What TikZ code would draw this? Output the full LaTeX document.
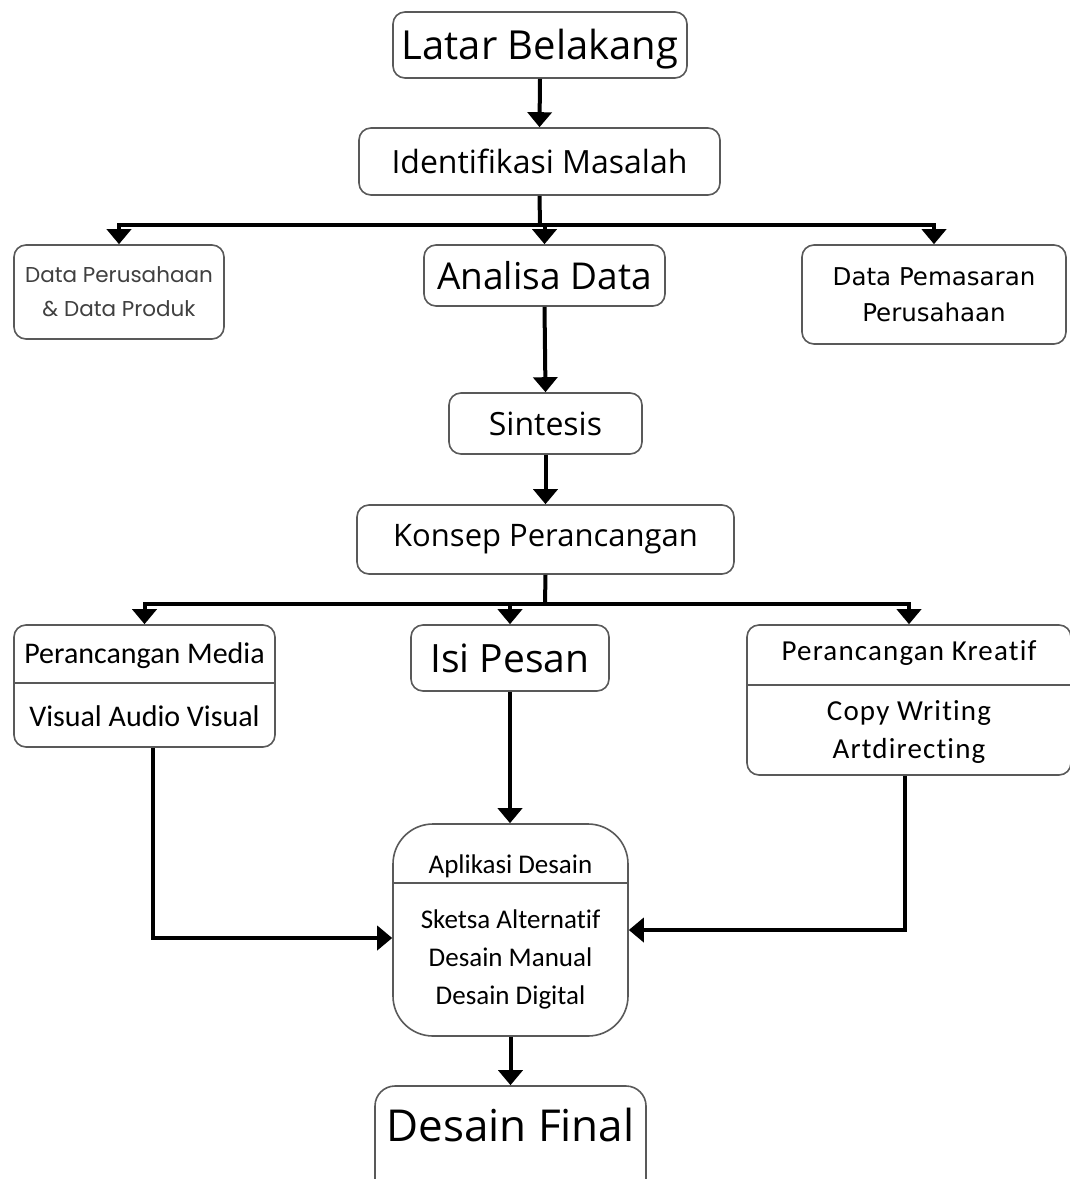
\documentclass[tikz,border=0pt]{standalone}
\usepackage{fontspec}
\setmainfont{Open Sans}
\newfontfamily\calfont[Ligatures=NoCommon]{Carlito}
\newfontfamily\calspfont[Ligatures=NoCommon,LetterSpace=4]{Carlito}
\newfontfamily\dvsfont{DejaVu Sans}
\newfontfamily\popfont{Poppins}
\usetikzlibrary{arrows.meta,calc}
\begin{document}
\begin{tikzpicture}[x=1pt,y=-1pt,
  box/.style={draw=black!65,line width=1.6pt,rounded corners=12pt,inner sep=0pt,align=center,fill=white},
  conn/.style={line width=4pt,-{Triangle[width=24pt,length=15pt]}},
  plain/.style={line width=4pt},
  divider/.style={draw=black!65,line width=1.6pt},
  txt/.style={inner sep=0pt,align=center}]
\clip (0,0) rectangle (1070,1179);
\fill[white] (0,0) rectangle (1070,1179);

% top chain
\node[box,minimum width=294pt,minimum height=66pt,font=\fontsize{40}{48}\selectfont] (lb) at (540,45) {};
\node[txt,font=\fontsize{40}{48}\selectfont] (lbt) at (540,49) {Latar Belakang};
\node[box,minimum width=361pt,minimum height=67pt,font=\fontsize{32}{38}\selectfont] (im) at (539.5,161.5)
  {Identifikasi Masalah};
\node[box,minimum width=210pt,minimum height=94pt,font=\popfont\fontsize{21.5}{34}\selectfont,text=black!75] (dp) at (119,292)
  {Data Perusahaan\\ \& Data Produk};
\node[box,minimum width=241pt,minimum height=61pt,font=\fontsize{37}{44}\selectfont] (ad) at (544.5,275.5)
  {Analisa Data};
\node[box,minimum width=264pt,minimum height=99pt,font=\dvsfont\fontsize{24.5}{36}\selectfont] (dm) at (934,294.5)
  {Data Pemasaran\\Perusahaan};
\node[box,minimum width=193pt,minimum height=61pt,font=\fontsize{32}{38}\selectfont] (si) at (545.5,423.5)
  {Sintesis};
\node[box,minimum width=377pt,minimum height=69pt,font=\fontsize{31}{37}\selectfont] (kp) at (545.5,539.5)
  {Konsep Perancangan};

% second row
\node[box,minimum width=261pt,minimum height=122pt] (pm) at (144.5,686) {};
\draw[divider] (pm.west |- 0,683) -- (pm.east |- 0,683);
\node[txt,font=\calfont\fontsize{30}{36}\selectfont] (pmt) at (144.5,656) {Perancangan Media};
\node[txt,font=\calfont\fontsize{30}{36}\selectfont] (pmb) at (144.5,716) {Visual Audio Visual};

\node[box,minimum width=198pt,minimum height=66pt,font=\fontsize{39}{46}\selectfont] (ip) at (510,658)
  {Isi Pesan};

\node[box,minimum width=324pt,minimum height=150pt] (pk) at (909,700) {};
\draw[divider] (pk.west |- 0,685) -- (pk.east |- 0,685);
\node[txt,font=\calspfont\fontsize{29}{35}\selectfont] (pkt) at (909,653) {Perancangan Kreatif};
\node[txt,font=\calspfont\fontsize{29}{38}\selectfont] (pkb) at (909,732) {Copy Writing\\Artdirecting};

% application box
\node[box,rounded corners=40pt,minimum width=235pt,minimum height=212pt] (ap) at (510.5,930) {};
\draw[divider] (ap.west |- 0,883) -- (ap.east |- 0,883);
\node[txt,font=\calfont\fontsize{27}{33}\selectfont] (apt) at (510.5,866) {Aplikasi Desain};
\node[txt,font=\calfont\fontsize{27}{38}\selectfont] (apb) at (510.5,959) {Sketsa Alternatif\\Desain Manual\\Desain Digital};

% final
\node[box,rounded corners=20pt,minimum width=271pt,minimum height=130pt] (df) at (510.5,1151) {};
\node[txt,font=\fontsize{44}{52}\selectfont] (dft) at (510.5,1125) {Desain Final};

% connectors
\draw[conn] (lb.south) -- (im.north);
\coordinate (j1) at (540,225);
\draw[plain] (im.south) -- (j1);
\draw[conn] (j1) -| (dp.north);
\draw[conn] (j1) -| (ad.north);
\draw[conn] (j1) -| (dm.north);
\draw[conn] (ad.south) -- (si.north);
\draw[conn] (si.south) -- (kp.north);
\coordinate (j2) at (545,604);
\draw[plain] (kp.south) -- (j2);
\draw[conn] (j2) -| (pm.north);
\draw[conn] (j2) -| (ip.north);
\draw[conn] (j2) -| (pk.north);
\draw[conn] (ip.south) -- (ip.south |- ap.north);
\draw[conn] ([xshift=8pt]pm.south) |- ([yshift=-8pt]ap.west);
\draw[conn] ([xshift=-4pt]pk.south) |- (ap.east);
\draw[conn] (ap.south) -- (ap.south |- df.north);
\end{tikzpicture}
\end{document}
